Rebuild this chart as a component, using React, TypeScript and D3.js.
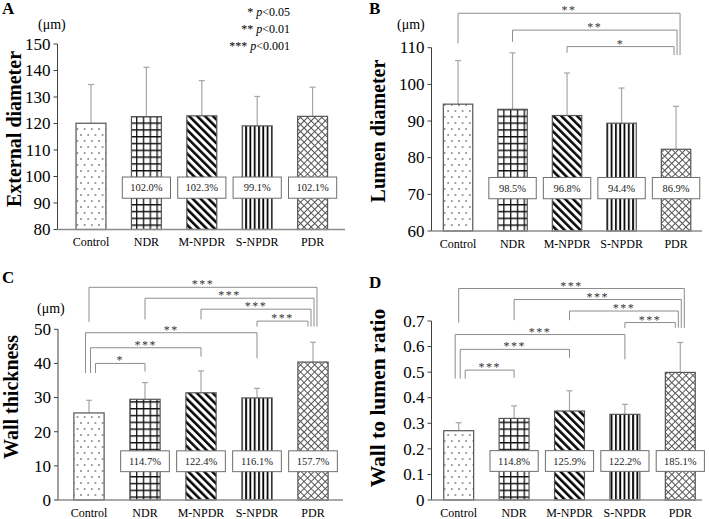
import React from "react";
import * as d3 from "d3";

// ---------- DATA ----------
const categories = ["Control", "NDR", "M-NPDR", "S-NPDR", "PDR"];

const extMean = [120.1, 122.6, 122.9, 119.1, 122.7];
const extSD = [14.6, 18.6, 13.3, 11.1, 11.0];
const extPct = ["", "102.0%", "102.3%", "99.1%", "102.1%"];
const extTicks = [80, 90, 100, 110, 120, 130, 140, 150];

const lumMean = [94.6, 93.2, 91.5, 89.4, 82.3];
const lumSD = [11.9, 15.4, 11.6, 9.6, 11.7];
const lumPct = ["", "98.5%", "96.8%", "94.4%", "86.9%"];
const lumTicks = [60, 70, 80, 90, 100, 110];

const wallMean = [25.5, 29.5, 31.4, 29.9, 40.4];
const wallSD = [3.7, 4.9, 6.4, 2.8, 5.8];
const wallPct = ["", "114.7%", "122.4%", "116.1%", "157.7%"];
const wallTicks = [0, 10, 20, 30, 40, 50];

const ratioMean = [0.271, 0.319, 0.348, 0.335, 0.499];
const ratioSD = [0.031, 0.049, 0.079, 0.039, 0.117];
const ratioPct = ["", "114.8%", "125.9%", "122.2%", "185.1%"];
const ratioTicks = [0, 0.1, 0.2, 0.3, 0.4, 0.5, 0.6, 0.7];

// significance brackets: from, to, label, level, left-leg end, right-leg end (data units)
const lumBrackets = [
  { a: 0, b: 4, label: "**", level: 119.4, legA: 111.2, legB: 108.0 },
  { a: 1, b: 4, label: "**", level: 114.8, legA: 111.6, legB: 108.0 },
  { a: 2, b: 4, label: "*", level: 110.3, legA: 108.6, legB: 108.0 },
];
const wallBrackets = [
  { a: 0, b: 4, label: "***", level: 62.3, legA: 52.2, legB: 50.8 },
  { a: 1, b: 4, label: "***", level: 59.1, legA: 52.9, legB: 50.8 },
  { a: 2, b: 4, label: "***", level: 55.9, legA: 52.9, legB: 50.8 },
  { a: 3, b: 4, label: "***", level: 52.4, legA: 50.8, legB: 50.8 },
  { a: 0, b: 3, label: "**", level: 49.0, legA: 37.2, legB: 41.5 },
  { a: 0, b: 2, label: "***", level: 44.6, legA: 37.2, legB: 42.0 },
  { a: 0, b: 1, label: "*", level: 40.0, legA: 37.2, legB: 37.6 },
];
const ratioBrackets = [
  { a: 0, b: 4, label: "***", level: 0.827, legA: 0.694, legB: 0.673 },
  { a: 1, b: 4, label: "***", level: 0.784, legA: 0.703, legB: 0.673 },
  { a: 2, b: 4, label: "***", level: 0.739, legA: 0.703, legB: 0.673 },
  { a: 3, b: 4, label: "***", level: 0.694, legA: 0.673, legB: 0.673 },
  { a: 0, b: 3, label: "***", level: 0.647, legA: 0.475, legB: 0.55 },
  { a: 0, b: 2, label: "***", level: 0.589, legA: 0.475, legB: 0.556 },
  { a: 0, b: 1, label: "***", level: 0.508, legA: 0.475, legB: 0.478 },
];

const legendLines = [
  { stars: "*", p: "<0.05" },
  { stars: "**", p: "<0.01" },
  { stars: "***", p: "<0.001" },
];

// ---------- STYLE / LAYOUT ----------
const SERIF = "'Liberation Serif', 'Times New Roman', Times, serif";
const patterns = ["pDots", "pGrid", "pDiag", "pVert", "pCross"];

type Panel = {
  letter: string;
  letterPos: [number, number];
  title: string;
  titlePos: [number, number];
  titleSize: number;
  unitPos?: [number, number];
  mean: number[];
  sd: number[];
  pct: string[];
  ticks: number[];
  tickFmt: (v: number) => string;
  domain: [number, number];
  yRange: [number, number];
  axisX: number;
  bandRange: [number, number];
  baseEnd: number;
  box: [number, number];
  brackets?: { a: number; b: number; label: string; level: number; legA: number; legB: number }[];
};

const panels: Panel[] = [
  {
    letter: "A", letterPos: [2, 14], title: "External diameter", titlePos: [21, 129], titleSize: 20,
    unitPos: [38, 29], mean: extMean, sd: extSD, pct: extPct, ticks: extTicks, tickFmt: (v) => String(v),
    domain: [80, 150], yRange: [229.5, 44], axisX: 57.5, bandRange: [63.3, 340.3], baseEnd: 345,
    box: [91.8, 99.8],
  },
  {
    letter: "B", letterPos: [369, 14], title: "Lumen diameter", titlePos: [385, 131], titleSize: 20,
    unitPos: [397, 29], mean: lumMean, sd: lumSD, pct: lumPct, ticks: lumTicks, tickFmt: (v) => String(v),
    domain: [60, 110], yRange: [231, 47.7], axisX: 431.5, bandRange: [430.8, 703.3], baseEnd: 702,
    box: [68.8, 74.6], brackets: lumBrackets,
  },
  {
    letter: "C", letterPos: [2, 283], title: "Wall thickness", titlePos: [18, 397], titleSize: 20,
    unitPos: [37, 313], mean: wallMean, sd: wallSD, pct: wallPct, ticks: wallTicks, tickFmt: (v) => String(v),
    domain: [0, 50], yRange: [500, 329.3], axisX: 58, bandRange: [61, 341], baseEnd: 343,
    box: [8.3, 14.4], brackets: wallBrackets,
  },
  {
    letter: "D", letterPos: [369, 288], title: "Wall to lumen ratio", titlePos: [385, 398], titleSize: 21.5,
    mean: ratioMean, sd: ratioSD, pct: ratioPct, ticks: ratioTicks, tickFmt: (v) => (v === 0 ? "0" : d3.format(".1f")(v)),
    domain: [0, 0.7], yRange: [500, 321], axisX: 431.5, bandRange: [431, 708], baseEnd: 702,
    box: [0.112, 0.193], brackets: ratioBrackets,
  },
];

function computeBracketX(brs: NonNullable<Panel["brackets"]>, cx: (i: number) => number) {
  const near = (p: number, q: number) => Math.abs(p - q) < 1e-6;
  return brs.map((br) => {
    const gA = brs.filter((o) => o.a === br.a && near(o.legA, br.legA)).sort((p, q) => q.level - p.level);
    const gB = brs.filter((o) => o.b === br.b && near(o.legB, br.legB)).sort((p, q) => q.level - p.level);
    const offA = gA.length > 1 ? -3.5 + gA.indexOf(br) * 5 : 0;
    const offB = gB.length > 1 ? 4 - gB.indexOf(br) * 3 : 0;
    return { xa: cx(br.a) + offA, xb: cx(br.b) + offB };
  });
}

function PanelView({ p }: { p: Panel }) {
  const y = d3.scaleLinear().domain(p.domain).range(p.yRange);
  const x = d3.scaleBand<string>().domain(categories).range(p.bandRange).padding(0);
  const cx = (i: number) => (x(categories[i]) as number) + x.bandwidth() / 2;
  const barW = x.bandwidth() * 0.54;
  const boxW = x.bandwidth() * 0.87;
  const y0 = y(p.domain[0]);
  const brX = p.brackets ? computeBracketX(p.brackets, cx) : [];
  const starSize = 12;

  return (
    <g>
      <text x={p.letterPos[0]} y={p.letterPos[1]} fontFamily={SERIF} fontWeight="bold" fontSize={17} fill="#000">
        {p.letter}
      </text>
      <text
        transform={`translate(${p.titlePos[0]},${p.titlePos[1]}) rotate(-90)`}
        textAnchor="middle"
        fontFamily={SERIF}
        fontWeight="bold"
        fontSize={p.titleSize}
        fill="#000"
      >
        {p.title}
      </text>
      {p.unitPos && (
        <text x={p.unitPos[0]} y={p.unitPos[1]} fontFamily={SERIF} fontSize={14} fill="#000">
          (μm)
        </text>
      )}
      <line x1={p.axisX} x2={p.axisX} y1={y(p.domain[1])} y2={y0} stroke="#404040" strokeWidth={1} />
      {p.ticks.map((t) => (
        <g key={t}>
          <line x1={p.axisX - 4} x2={p.axisX} y1={y(t)} y2={y(t)} stroke="#404040" strokeWidth={1} />
          <text
            x={p.axisX - 7}
            y={y(t)}
            dy="0.34em"
            textAnchor="end"
            fontFamily={SERIF}
            fontSize={17}
            fill="#000"
          >
            {p.tickFmt(t)}
          </text>
        </g>
      ))}
      {categories.map((c, i) => {
        const top = y(p.mean[i]);
        const bx = cx(i) - barW / 2;
        const eTop = y(p.mean[i] + p.sd[i]);
        return (
          <g key={c}>
            <line x1={cx(i)} x2={cx(i)} y1={top} y2={eTop} stroke="#a6a6a6" strokeWidth={1.2} />
            <line x1={cx(i) - 3} x2={cx(i) + 3} y1={eTop} y2={eTop} stroke="#a6a6a6" strokeWidth={1.2} />
            <rect x={bx} y={top} width={barW} height={y0 - top} fill="#fff" />
            <rect x={bx} y={top} width={barW} height={y0 - top} fill={`url(#${patterns[i]})`} stroke="#555" strokeWidth={1.2} />
          </g>
        );
      })}
      <line x1={p.axisX} x2={p.baseEnd} y1={y0} y2={y0} stroke="#8c8c8c" strokeWidth={1.5} />
      {categories.map((c, i) =>
        p.pct[i] ? (
          <g key={"pct" + c}>
            <rect
              x={cx(i) - boxW / 2}
              y={y(p.box[1])}
              width={boxW}
              height={y(p.box[0]) - y(p.box[1])}
              fill="#fff"
              stroke="#6e6e6e"
              strokeWidth={1}
            />
            <text
              x={cx(i)}
              y={(y(p.box[0]) + y(p.box[1])) / 2}
              dy="0.35em"
              textAnchor="middle"
              fontFamily={SERIF}
              fontSize={10.5}
              fill="#222"
            >
              {p.pct[i]}
            </text>
          </g>
        ) : null
      )}
      {categories.map((c, i) => (
        <text key={"lab" + c} x={cx(i)} y={y0 + 16.5} textAnchor="middle" fontFamily={SERIF} fontSize={12} fill="#000">
          {c}
        </text>
      ))}
      {(p.brackets || []).map((br, k) => {
        const { xa, xb } = brX[k];
        const ly = y(br.level);
        return (
          <g key={"br" + k}>
            <path
              d={`M${xa},${y(br.legA)}V${ly}H${xb}V${y(br.legB)}`}
              fill="none"
              stroke="#8c8c8c"
              strokeWidth={1}
            />
            <text
              x={(xa + xb) / 2}
              y={ly + 1}
              textAnchor="middle"
              fontFamily={SERIF}
              fontSize={starSize}
              letterSpacing={1.5}
              fill="#333"
            >
              {br.label}
            </text>
          </g>
        );
      })}
    </g>
  );
}

export default function App() {
  return (
    <svg
      width={709}
      height={519}
      viewBox="0 0 709 519"
      style={{ position: "absolute", left: 0, top: 0, background: "#fff" }}
    >
      <defs>
        <pattern id="pDots" patternUnits="userSpaceOnUse" width={7.2} height={12}>
          <circle cx={1.8} cy={3} r={0.75} fill="#222" />
          <circle cx={5.4} cy={9} r={0.75} fill="#222" />
        </pattern>
        <pattern id="pGrid" patternUnits="userSpaceOnUse" width={6.8} height={6.8}>
          <path d="M0.7,0V6.8M0,0.7H6.8" stroke="#111" strokeWidth={1.3} />
        </pattern>
        <pattern id="pDiag" patternUnits="userSpaceOnUse" width={5.6} height={5.6} patternTransform="rotate(-45)">
          <line x1={1.3} x2={1.3} y1={0} y2={5.6} stroke="#000" strokeWidth={2.5} />
        </pattern>
        <pattern id="pVert" patternUnits="userSpaceOnUse" width={4.3} height={4.3}>
          <line x1={1} x2={1} y1={0} y2={4.3} stroke="#000" strokeWidth={1.8} />
        </pattern>
        <pattern id="pCross" patternUnits="userSpaceOnUse" width={5} height={5} patternTransform="rotate(45)">
          <path d="M0.5,0V5M0,0.5H5" stroke="#555" strokeWidth={1} />
        </pattern>
      </defs>
      {panels.map((p) => (
        <PanelView key={p.letter} p={p} />
      ))}
      {legendLines.map((l, i) => (
        <text key={l.p} x={290} y={16 + i * 17} textAnchor="end" fontFamily={SERIF} fontSize={12} fill="#000">
          {l.stars + " "}
          <tspan fontStyle="italic">p</tspan>
          {l.p}
        </text>
      ))}
    </svg>
  );
}
